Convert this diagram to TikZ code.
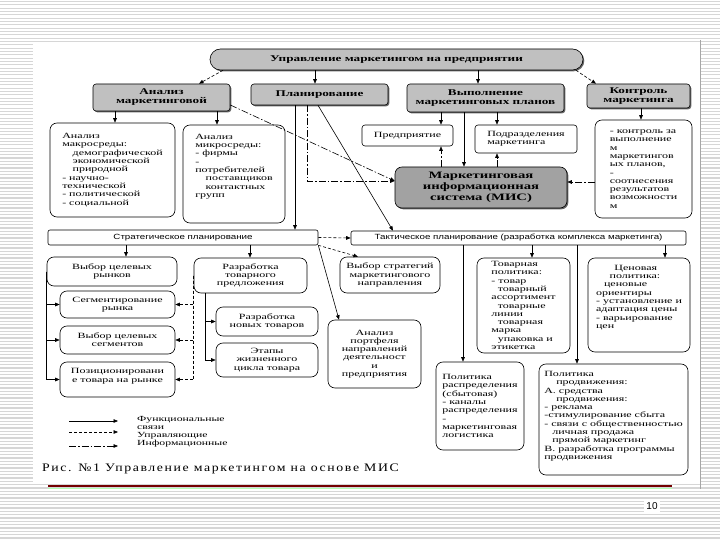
\documentclass[tikz,border=0pt]{standalone}
\usepackage{fontspec}
\usetikzlibrary{arrows.meta,shadows}
\newfontfamily\bxfont{Liberation Serif}[FakeStretch=1.5]
\newfontfamily\sxfont{Liberation Sans}[FakeStretch=1.3]
\newfontfamily\capfont{Liberation Serif}[FakeStretch=1.2,LetterSpace=14]
\newfontfamily\pnumfont{Liberation Sans}
\definecolor{boxgray}{HTML}{C0C0C0}
\definecolor{misgray}{HTML}{A2A2A2}
\tikzset{
  shd/.style={drop shadow={shadow xshift=1.3pt,shadow yshift=-1.3pt,fill=black!75,opacity=0.8}},
  graybox/.style={draw=black, line width=0.6pt, fill=boxgray, rounded corners=3pt, shd,
    align=center, inner sep=1pt, font=\bxfont\bfseries\fontsize{8.8}{9}\selectfont},
  misbox/.style={draw=black, line width=0.6pt, fill=misgray, rounded corners=7pt, shd,
    align=center, inner sep=1pt, font=\bxfont\bfseries\fontsize{9.8}{11}\selectfont},
  wbox/.style={draw=black, line width=0.6pt, fill=white, rounded corners=7pt, inner sep=1pt,
    font=\bxfont\fontsize{8}{8.3}\selectfont},
  lbox/.style={wbox, align=left},
  cbox/.style={wbox, align=center},
  planbox/.style={draw=black, line width=0.6pt, fill=white, rounded corners=2pt, inner sep=1pt,
    align=center, font=\sxfont\fontsize{7.5}{8}\selectfont},
  sz/.style 2 args={minimum width=#1pt, minimum height=#2pt},
  fl/.style={line width=0.6pt, -{Triangle[length=4.5pt,width=3.6pt]}},
  ul/.style={fl, dash pattern=on 3pt off 2pt},
  il/.style={fl, dash pattern=on 7pt off 2pt on 1.5pt off 2pt},
  legtext/.style={anchor=base west, inner sep=0pt, font=\bxfont\fontsize{7.8}{8.3}\selectfont},
}
\begin{document}
\begin{tikzpicture}[x=1pt,y=-1pt]
\useasboundingbox (0,0) rectangle (720,540);
% slide background
\foreach \i in {0,...,162} {\draw[black!16, line width=1.3pt] (0,{\i*3.333+1.5}) -- (720,{\i*3.333+1.5});}
\fill[white] (33,42) rectangle (700,484);
\draw[black!35, line width=0.8pt] (700,40) -- (700,489);
\draw[red!45!black, line width=1.2pt] (48,486) -- (672,486);
\draw[green!30, line width=0.6pt] (48,488.5) -- (672,488.5);
\node[fill=white, font=\pnumfont\fontsize{10}{12}\selectfont, inner sep=2pt] (pgnum) at (652,506) {10};

% top levels
\node[graybox, rounded corners=10.5pt, sz={373}{21}] (pill) at (396.5,59.5) {Управление маркетингом на предприятии};
\node[graybox, sz={137}{27}] (analiz) at (161.5,97.5) {Анализ\\маркетинговой};
\node[graybox, sz={137}{21}] (plan) at (319.5,94.5) {Планирование};
\node[graybox, sz={157}{28}] (vyp) at (485.5,98) {Выполнение\\маркетинговых планов};
\node[graybox, sz={103}{24}] (kontr) at (638.5,96) {Контроль\\маркетинга};

% third row
\node[lbox, sz={125}{94}] (macro) at (112.5,170) {Анализ\\макросреды:\\\hspace*{1.3em}демографической\\\hspace*{1.3em}экономической\\\hspace*{1.3em}природной\\- научно-\\технической\\- политической\\- социальной};
\node[lbox, sz={102}{98}] (micro) at (234,174) {Анализ\\микросреды:\\- фирмы\\-\\потребителей\\\hspace*{1.3em}поставщиков\\\hspace*{1.3em}контактных\\групп\\\mbox{}\\\mbox{}};
\node[cbox, rounded corners=3pt, sz={91}{21}] (pred) at (407.5,135.5) {Предприятие};
\node[lbox, rounded corners=3pt, sz={102}{28}] (podr) at (526,139) {Подразделения\\маркетинга};
\node[lbox, sz={97}{98}] (ctrlbox) at (643.5,169) {- контроль за\\выполнение\\м\\маркетингов\\ых планов,\\-\\соотнесения\\результатов\\возможности\\м};
\node[misbox, sz={172}{41}] (mis) at (481,187.5) {Маркетинговая\\информационная\\система (МИС)};

% planning bars
\node[planbox, sz={270}{15}] (strat) at (183,237.5) {Стратегическое планирование};
\node[planbox, sz={335}{14}] (takt) at (518.5,238) {Тактическое планирование (разработка комплекса маркетинга)};

% strategic children
\node[cbox, sz={130}{29}] (vybr) at (112,271.5) {Выбор целевых\\рынков};
\node[cbox, sz={115}{27}] (segm) at (117.5,304.5) {Сегментирование\\рынка};
\node[cbox, sz={115}{28}] (vseg) at (117.5,340) {Выбор целевых\\сегментов};
\node[cbox, sz={115}{35}] (pozi) at (117.5,379.5) {Позиционировани\\е товара на рынке\\\mbox{}};
\node[cbox, sz={113}{35}] (razr) at (250.5,275.5) {Разработка\\товарного\\предложения};
\node[cbox, sz={102}{29}] (novt) at (267,321.5) {Разработка\\новых товаров};
\node[cbox, sz={102}{34}] (etap) at (267,360) {Этапы\\жизненного\\цикла товара};
\node[cbox, sz={100}{36}] (vstr) at (390,275) {Выбор стратегий\\маркетингового\\направления};
\node[cbox, sz={93}{68}] (portf) at (374.5,354) {Анализ\\портфеля\\направлений\\деятельност\\и\\предприятия};

% tactical children
\node[lbox, sz={93}{95}] (tov) at (523.5,305.5) {Товарная\\политика:\\- товар\\\hspace*{0.8em}товарный\\ассортимент\\\hspace*{0.8em}товарные\\линии\\\hspace*{0.8em}товарная\\марка\\\hspace*{0.8em}упаковка и\\этикетка};
\node[lbox, sz={102}{94}] (cen) at (639,305) {\hspace*{2.3em}Ценовая\\\hspace*{1.7em}политика:\\\hspace*{1em}ценовые\\ориентиры\\- установление и\\адаптация цены\\- варьирование\\цен\\\mbox{}\\\mbox{}};
\node[lbox, sz={88}{88}] (raspr) at (480,406) {Политика\\распределения\\(сбытовая)\\- каналы\\распределения\\-\\маркетинговая\\логистика};
\node[lbox, sz={149}{111}] (prod) at (613.5,419.5) {Политика\\\hspace*{1.5em}продвижения:\\А. средства\\\hspace*{1.5em}продвижения:\\- реклама\\-стимулирование сбыта\\- связи с общественностью\\\hspace*{1em}личная продажа\\\hspace*{1em}прямой маркетинг\\В. разработка программы\\продвижения\\\mbox{}};

% helper coordinates
\foreach \v in {115,126,199,205,217,223,250,295,307,315,318,339,358,393,441,463,464,478,497,532,576,577,596,641,665}
  {\coordinate (x\v) at (\v,0);}
\coordinate (y105) at (0,105);
\coordinate (y181) at (0,181);
\coordinate (y182) at (0,182);

% connectors
\draw[ul] (pill.south -| x223) -- (analiz.north -| x199);
\draw[fl] (pill.south -| x315) -- (plan.north -| x315);
\draw[fl] (pill.south -| x478) -- (vyp.north -| x478);
\draw[ul] (pill.south -| x576) -- (kontr.north -| x596);
\draw[fl] (analiz.south -| x115) -- (macro.north -| x115);
\draw[fl] (analiz.south -| x217) -- (micro.north -| x217);
\draw[il] (analiz.east |- y105) -- (mis.west |- y181);
\draw[il] (plan.south -| x307) |- (mis.west |- y181);
\draw[il] (ctrlbox.west |- y182) -- (mis.east |- y182);
\draw[fl] (vyp.south -| x441) -- (pred.north -| x441);
\draw[fl] (vyp.south -| x464) -- (mis.north -| x464);
\draw[fl] (vyp.south -| x497) -- (podr.north -| x497);
\draw[il] (mis.north -| x441) -- (pred.south -| x441);
\draw[il] (mis.north -| x497) -- (podr.south -| x497);
\draw[fl] (kontr.south -| x641) -- (ctrlbox.north -| x641);
\draw[fl] (plan.south -| x295) -- (strat.north -| x295);
\draw[fl] (plan.south -| x318) -- (takt.north -| x393);
\draw[ul] (strat.east) -- (takt.west);
\draw[fl] (strat.south -| x126) -- (vybr.north -| x126);
\draw[fl] (strat.south -| x250) -- (razr.north -| x250);
\draw[ul] (strat.south east) -- (vstr.north -| x358);
\draw[fl] (strat.south east) -- (portf.north -| x339);
\draw[fl] (vybr.west) |- (segm.west);
\draw[fl] (vybr.west) |- (vseg.west);
\draw[fl] (vybr.west) |- (pozi.west);
\draw[ul] (razr.west) |- (segm.east);
\draw[ul] (razr.west) |- (vseg.east);
\draw[ul] (razr.west) |- (pozi.east);
\draw[fl] (razr.south -| x205) |- (novt.west);
\draw[fl] (razr.south -| x205) |- (etap.west);
\draw[fl] (takt.south -| x463) -- (raspr.north -| x463);
\draw[fl] (takt.south -| x532) -- (tov.north -| x532);
\draw[fl] (takt.south -| x577) -- (prod.north -| x577);
\draw[fl] (takt.south -| x665) -- (cen.north -| x665);

% legend
\coordinate (ls1) at (69,421); \coordinate (le1) at (118,421);
\coordinate (ls2) at (69,432); \coordinate (le2) at (118,432);
\coordinate (ls3) at (69,446); \coordinate (le3) at (118,446);
\draw[fl] (ls1) -- (le1);
\draw[ul] (ls2) -- (le2);
\draw[il] (ls3) -- (le3);
\node[legtext] (lt1) at (137,421) {Функциональные};
\node[legtext] (lt2) at (137,429) {связи};
\node[legtext] (lt3) at (137,437) {Управляющие};
\node[legtext] (lt4) at (137,445) {Информационные};

% caption
\node[anchor=base west, inner sep=0pt, font=\capfont\fontsize{11.5}{13}\selectfont] (cap) at (42,471) {Рис. №1 Управление маркетингом на основе МИС};
\end{tikzpicture}
\end{document}
